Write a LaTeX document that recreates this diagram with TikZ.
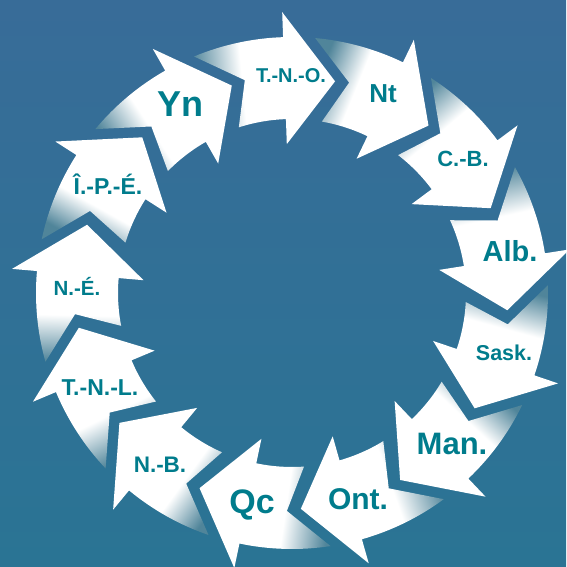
\documentclass[tikz,border=0pt]{standalone}
\usepackage{fontspec}
\setmainfont{Liberation Sans}
\definecolor{bgtop}{RGB}{56,108,152}
\definecolor{bgbot}{RGB}{42,116,148}
\definecolor{tailc}{RGB}{80,133,154}
\definecolor{lbl}{RGB}{0,124,140}
\pgfdeclarehorizontalshading{tailfade}{100bp}{color(0bp)=(tailc); color(25bp)=(tailc); color(42bp)=(white); color(100bp)=(white)}
\tikzset{lab/.style={text=lbl, anchor=base, inner sep=0pt, font=\bfseries\fontsize{#1}{#1}\selectfont}}
\begin{document}
\begin{tikzpicture}[x=1pt,y=1pt]
\shade[top color=bgtop, bottom color=bgbot] (0,0) rectangle (566,567);
\useasboundingbox (0,0) rectangle (566,567);
\begin{scope}[shift={(292,274)}]
\foreach \k in {0,...,12}{
  \pgfmathsetmacro\a{78.5-\k*360/13}
  \pgfmathsetmacro\sa{\a+17-90}
  \shade[shading=tailfade, shading angle=\sa]
    ({\a}:216) -- ({\a+13.5}:281) -- ({\a+13.5}:256)
    arc[start angle=\a+13.5, end angle=\a+34, radius=256]
    -- ({\a+24}:218) -- ({\a+29.3}:174)
    arc[start angle=\a+29.3, end angle=\a+13.5, radius=174]
    -- ({\a+13.5}:149) -- cycle;
}
\end{scope}
\node[lab=20] (ntno) at (291,484) {T.-N.-O.};
\node[lab=26] (nnt) at (383,464) {Nt};
\node[lab=22] (ncb) at (463,400.5) {C.-B.};
\node[lab=29] (nalb) at (510,305) {Alb.};
\node[lab=21.5] (nsask) at (504,206) {Sask.};
\node[lab=31] (nman) at (452,112) {Man.};
\node[lab=30] (nont) at (358,57) {Ont.};
\node[lab=34] (nqc) at (252,53.5) {Qc};
\node[lab=22.5] (nnb) at (160,94) {N.-B.};
\node[lab=23] (ntnl) at (100,171) {T.-N.-L.};
\node[lab=20.5] (nne) at (77,271) {N.-É.};
\node[lab=23] (nipe) at (108,372) {Î.-P.-É.};
\node[lab=36] (nyn) at (180,450) {Yn};
\end{tikzpicture}
\end{document}
